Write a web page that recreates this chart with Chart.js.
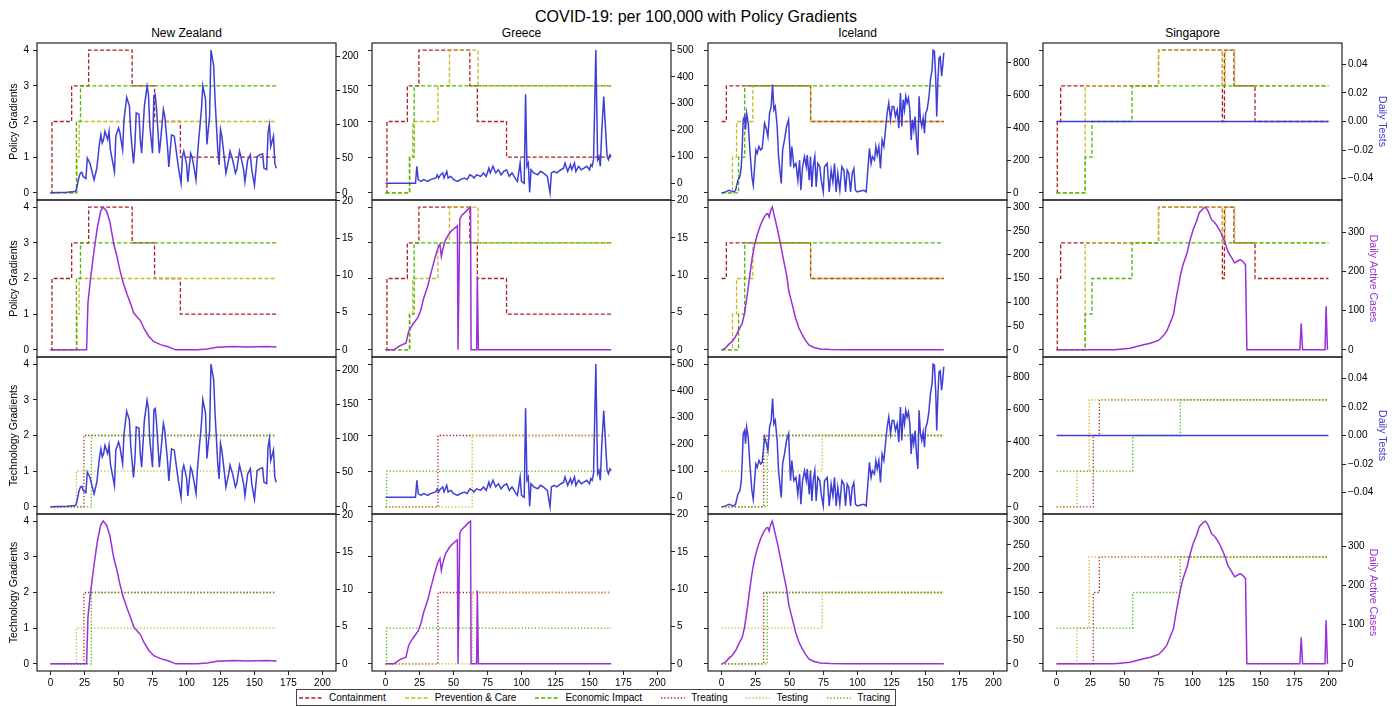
<!DOCTYPE html>
<html>
<head>
<meta charset="utf-8">
<title>COVID-19 policy gradients</title>
<script src="https://cdn.jsdelivr.net/npm/chart.js@4.4.1/dist/chart.umd.min.js"></script>
<style>
body{margin:0;background:#fff;font-family:"Liberation Sans",Arial,Helvetica,sans-serif;color:#000}
#fig{position:relative;width:1395px;height:707px;overflow:hidden}
#fig canvas{position:absolute}
#title{position:absolute;left:0;top:8px;width:1392px;text-align:center;font-size:16px}
.coltitle{position:absolute;top:26px;width:299px;text-align:center;font-size:12px}
#legend{position:absolute;left:296px;top:689px;width:600px;height:17px;border:1px solid #444;box-sizing:border-box;display:flex;align-items:center;font-size:10px;padding-left:2px;white-space:nowrap}
#legend .it{display:flex;align-items:center;margin-right:19px;flex-shrink:0}
#legend svg{margin-right:6px}
</style>
</head>
<body>
<div id="fig">
<div id="title">COVID-19: per 100,000 with Policy Gradients</div>
<div id="legend"></div>
</div>
<script>
// ---- labels ----
const countries=["New Zealand","Greece","Iceland","Singapore"];
const rowLabels=["Policy Gradients","Policy Gradients","Technology Gradients","Technology Gradients"];
const policyNames=["Containment","Prevention & Care","Economic Impact"];
const techNames=["Treating","Testing","Tracing"];
const xTicks=[0,25,50,75,100,125,150,175,200];
const gradTicks=[0,1,2,3,4];
const testTicks=[[0,50,100,150,200],[0,100,200,300,400,500],[0,200,400,600,800],[-0.04,-0.02,0,0.02,0.04]];
const caseTicks=[[0,5,10,15,20],[0,5,10,15,20],[0,50,100,150,200,250,300],[0,100,200,300]];

// ---- gradients: [day, level], level holds until next day ----
const nzContainment=[[0,0],[1,2],[15.5,3],[28,4],[60,3],[76.5,2],[95.5,1],[166,1]];
const nzPrevention=[[0,0],[19.5,1],[21,2],[166,2]];
const nzEconomic=[[0,0],[19,2],[22,3],[166,3]];
const nzTreating=[[0,0],[24.5,2],[166,2]];
const nzTesting=[[0,0],[19,1],[166,1]];
const nzTracing=[[0,0],[30,2],[166,2]];

const grContainment=[[0,0],[1,2],[16,3],[24.5,4],[62,3],[67.5,2],[89,1],[166,1]];
const grPrevention=[[0,0],[18,1],[20,2],[38.5,3],[47,4],[68,3],[166,3]];
const grEconomic=[[0,0],[17.5,1],[21,3],[166,3]];
const grTreating=[[0,0],[38.5,2],[166,2]];
const grTesting=[[0,0],[63.7,2],[166,2]];
const grTracing=[[0,0],[0.7,1],[166,1]];

const isContainment=[[0,2],[3.5,3],[65.5,2],[163.5,2]];
const isPrevention=[[0,0],[8,1],[11,2],[23,3],[65.5,2],[163.5,2]];
const isEconomic=[[0,0],[12.5,1],[17,3],[163,3]];
const isTreating=[[0,0],[31,2],[163.5,2]];
const isTesting=[[0,1],[74,2],[163.5,2]];
const isTracing=[[0,0],[33.5,2],[163.5,2]];

const sgContainment=[[0,0],[0.5,2],[3,3],[75,4],[122,2],[123.5,4],[130.5,3],[146,2],[200,2]];
const sgPrevention=[[0,0],[21,3],[75,4],[122,3],[124,4],[131,3],[200,3]];
const sgEconomic=[[0,0],[21,1],[26,2],[55.5,3],[200,3]];
const sgTreating=[[0,0],[27,2],[31.5,3],[200,3]];
const sgTesting=[[0,0],[15,1],[24,3],[200,3]];
const sgTracing=[[0,1],[56,2],[91,3],[200,3]];

// ---- daily tests per 100,000: [day, value] ----
const nzTests=[[0,0],[12,1],[18,2],[19,5],[21,24],[22,29],[23,30],[24,24],[26,21],[27,51],[29,43],[32,19],[34,36],[36,73],[37,85],[38,73],[39,78],[40,90],[42,78],[43,90],[44,63],[47,31],[48,83],[50,95],[51,88],[53,63],[54,107],[56,140],[58,127],[59,88],[61,43],[62,68],[63,117],[65,115],[66,78],[67,58],[69,127],[71,156],[72,144],[73,98],[75,58],[76,142],[77,144],[78,122],[80,58],[81,78],[83,122],[84,112],[86,68],[87,38],[89,85],[91,83],[92,68],[94,38],[96,14],[97,53],[98,61],[100,43],[101,16],[103,58],[104,53],[105,43],[107,19],[108,53],[109,78],[111,122],[112,157],[114,137],[115,71],[117,112],[118,209],[120,186],[121,137],[123,63],[124,41],[125,93],[126,83],[128,48],[129,29],[131,48],[132,61],[134,48],[136,29],[137,34],[139,61],[140,53],[142,34],[143,16],[145,48],[147,56],[148,34],[150,11],[152,53],[154,56],[156,57],[157,36],[159,34],[160,88],[161,100],[162,68],[164,83],[165,43],[166,36]];
const grTests=[[0,0],[22,0],[23,64],[24,14],[26,7],[28,14],[31,7],[33,14],[37,20],[38,32],[39,20],[40,29],[42,39],[43,20],[45,45],[46,20],[48,26],[50,14],[53,7],[55,14],[58,20],[60,14],[62,32],[64,26],[65,20],[67,32],[70,26],[72,39],[74,26],[76,57],[77,39],[79,64],[81,39],[83,51],[85,32],[87,45],[89,51],[91,26],[93,39],[96,14],[97,7],[99,76],[100,7],[102,0],[103,335],[104,64],[105,76],[106,-34],[107,51],[109,39],[112,32],[114,45],[116,39],[119,26],[121,-36],[122,39],[124,45],[126,39],[129,51],[131,57],[132,76],[134,45],[136,70],[137,51],[139,76],[140,45],[142,64],[144,51],[146,57],[148,64],[150,51],[151,70],[152,64],[153,89],[154.7,501],[156,89],[157,101],[158,64],[159,189],[160.5,326],[162,189],[163,101],[164,89],[165,107],[166,101]];
const isTests=[[0,0],[3,6],[5.4,16],[6.6,12],[9,6],[10.3,16],[12,78],[13.5,99],[14.5,161],[15.2,285],[15.9,450],[16.9,470],[17.6,388],[18.4,491],[19.6,429],[20.8,264],[22.3,99],[23.3,47],[24.3,161],[25.2,264],[26.2,243],[27.5,285],[28.7,264],[29.9,274],[31.6,429],[33.1,388],[34.1,346],[35.3,491],[36.5,532],[37.5,666],[38.5,511],[39.5,532],[40.9,408],[41.9,223],[42.9,140],[43.9,58],[44.9,264],[46.3,326],[47.8,408],[49.3,450],[50.7,161],[51.7,285],[53.2,161],[54.7,181],[56.1,78],[57.4,202],[58.3,16],[59.6,161],[61,223],[62.3,161],[63,233],[64.5,78],[65.4,223],[66.4,37],[67.4,161],[68.6,223],[69.6,37],[70.8,181],[72.3,161],[73.3,78],[74.8,6],[75.7,161],[77.7,181],[79.2,6],[80.6,140],[81.9,68],[83.1,181],[84.3,6],[85.5,120],[87,16],[88.5,161],[90,140],[91.2,6],[92.4,140],[93.6,120],[94.9,6],[96.1,120],[97.3,150],[98.5,16],[99.8,6],[102.2,12],[104.7,16],[106.4,6],[107.6,140],[108.8,274],[110,181],[111,223],[112.5,202],[113.5,285],[114.5,233],[115.7,285],[116.9,150],[118.1,326],[119.4,285],[120.6,388],[121.8,491],[123,553],[124.3,450],[125.5,532],[126.7,532],[127.9,470],[129.2,511],[130.4,398],[131.6,614],[132.6,408],[133.6,573],[134.6,511],[135.5,594],[136.5,553],[137.5,584],[138.5,511],[139.5,326],[140.4,450],[141.4,388],[142.4,470],[143.4,326],[144.4,233],[145.3,594],[146.3,450],[147.3,408],[148.3,460],[149.3,367],[150.2,491],[151.2,511],[152.5,584],[153.7,697],[154.9,759],[155.6,878],[156.6,872],[157.6,697],[158.3,470],[159.1,676],[160,831],[160.9,837],[161.9,718],[162.7,779],[163.5,862]];
const sgTests=[[0,0],[200,0]];

// ---- daily active cases per 100,000: [day, value] ----
const nzCases=[[0,0],[26.5,0],[27.5,6.3],[29.4,9.6],[31.9,13.2],[34.3,16.3],[36.8,18.6],[38.7,19.15],[41.2,18.6],[43.6,17.2],[46.6,14.1],[48.5,12.8],[51,10.7],[53.4,9],[56.4,7.4],[59.3,6],[61.3,4.9],[64.2,4.3],[66.2,3.9],[68.6,2.9],[72.3,1.8],[76,1.1],[80.9,0.7],[85.8,0.45],[89.5,0.2],[91.9,0],[107.8,0],[115.2,0.13],[122.5,0.36],[134.8,0.45],[144.6,0.4],[159.3,0.45],[166.2,0.4]];
const grCases=[[0,0],[6,0],[9,0.36],[11,0.6],[15,0.9],[17,2.5],[20,3.4],[24,4.4],[26,5.4],[28,6.9],[31,8.5],[33,10],[35,11.4],[37,12.7],[38.5,13.6],[40,14.1],[41,12.5],[42,13.4],[44,14.7],[47,15.6],[49,16],[51.5,16.4],[52.8,16.6],[53.3,0],[54,0],[54.6,17.5],[56,18],[59,18.5],[61,18.9],[62.5,19.1],[62.9,0],[67,0],[67.5,9.8],[68.3,0],[166,0]];
const isCases=[[0,0],[2.9,3.5],[5.4,12],[7.8,17.6],[10.3,28],[12.7,42],[15.2,56],[16.9,77],[18.9,116],[20.8,158],[22.5,193],[24.3,221],[26.2,242],[28.7,263],[31.1,278],[33.1,286],[34.1,286],[35,279],[36,292],[37.3,300],[38.5,285],[40.9,256],[43.4,221],[45.8,186],[47.8,158],[49.5,123],[52,95],[54.4,67],[56.9,46],[59.3,32],[61.8,20],[64.2,10.5],[67.9,5],[72.8,2],[80.1,0.7],[92.4,0],[163.5,0]];
const sgCases=[[0,0],[42,0],[47,1.7],[54,4],[59,8.5],[64,13],[69,17],[75,24],[78,34],[81,47],[83,64],[86,90],[88,132],[91,188],[93,217],[96,247],[98,277],[100.5,307],[103,328],[105,350],[108,361],[109.6,364],[111.5,354],[114,332],[116.5,324],[119,311],[121,298],[124,273],[126,251],[129,234],[131,222],[133,226],[135,230],[137,226],[139,217],[140,0],[179,0],[180,68],[181,0],[197.5,0],[198.3,111],[199.3,0]];

const policy=[[nzContainment,nzPrevention,nzEconomic],[grContainment,grPrevention,grEconomic],[isContainment,isPrevention,isEconomic],[sgContainment,sgPrevention,sgEconomic]];
const tech=[[nzTreating,nzTesting,nzTracing],[grTreating,grTesting,grTracing],[isTreating,isTesting,isTracing],[sgTreating,sgTesting,sgTracing]];
const tests=[nzTests,grTests,isTests,sgTests];
const cases=[nzCases,grCases,isCases,sgCases];

// ---- styling ----
const gradColors=["#b02020","#c8b824","#4cb800"];
const testColor="#3f3fd6";
const caseColor="#9a30d8";
const DASH=[4,2.2];
const DOT=[1.3,2];

Chart.defaults.font.family='"Liberation Sans", Arial, sans-serif';
Chart.defaults.color='#000';

const COL_L=[37,372,708,1043];
const ROW_T=[43,200,357,514];
const BW=299, BH=157, PT=8;

const fig=document.getElementById('fig');

countries.forEach((name,c)=>{
  const d=document.createElement('div');
  d.className='coltitle';
  d.style.left=COL_L[c]+'px';
  d.textContent=name;
  fig.appendChild(d);
});

const frame={id:'frame',afterDatasetsDraw(ch){
  const a=ch.chartArea,g=ch.ctx;
  g.save();g.strokeStyle='#222';g.lineWidth=1.2;
  g.strokeRect(a.left,a.top,a.right-a.left,a.bottom-a.top);
  g.restore();
}};

function range(pairs){
  const v=pairs.map(p=>p[1]);
  let lo=Math.min(...v),hi=Math.max(...v);
  if(lo===hi){lo-=0.05;hi+=0.05;}
  const m=(hi-lo)*0.05;
  return [lo-m,hi+m];
}
function fixW(w){return s=>{s.width=w;s.paddingTop=0;s.paddingBottom=0;s.paddingLeft=0;s.paddingRight=0;};}
function fixH(h){return s=>{s.height=h;s.paddingTop=0;s.paddingBottom=0;s.paddingLeft=0;s.paddingRight=0;};}
function setTicks(vals){return s=>{s.ticks=vals.map(v=>({value:v}));};}
function fmt(vals){
  const dec=vals.some(t=>!Number.isInteger(t))?2:0;
  return v=>Number(v).toFixed(dec).replace('-','\u2212');
}
const xy=pairs=>pairs.map(p=>({x:p[0],y:p[1]}));

function panel(r,c){
  const isTest=r%2===0;
  const grads=r<2?policy[c]:tech[c];
  const names=r<2?policyNames:techNames;
  const right=isTest?tests[c]:cases[c];
  const rTicks=isTest?testTicks[c]:caseTicks[c];
  const lw=c===0?COL_L[0]:12;
  const rw=c===3?(isTest?50:41):36;
  const bottomAxis=r===3;
  const pb=bottomAxis?26:4;
  const w=lw+BW+rw, h=PT+BH+pb;
  const cv=document.createElement('canvas');
  cv.width=w;cv.height=h;
  cv.style.width=w+'px';cv.style.height=h+'px';
  cv.style.left=(COL_L[c]-lw)+'px';
  cv.style.top=(ROW_T[r]-PT)+'px';
  fig.appendChild(cv);

  const rr=range(right);
  const datasets=[{
    label:isTest?'Daily Tests':'Daily Active Cases',
    data:xy(right),yAxisID:'y1',borderColor:isTest?testColor:caseColor,
    borderWidth:1.5,pointRadius:0,tension:0,order:0
  }];
  grads.forEach((g,i)=>datasets.push({
    label:names[i],data:xy(g),yAxisID:'y',borderColor:gradColors[i],
    borderWidth:1.3,borderDash:r<2?DASH:DOT,stepped:true,pointRadius:0,order:3-i
  }));

  new Chart(cv,{
    type:'line',
    data:{datasets},
    options:{
      responsive:false,animation:false,events:[],
      layout:{padding:{top:PT,bottom:bottomAxis?0:pb,left:0,right:0}},
      plugins:{legend:{display:false},tooltip:{enabled:false}},
      scales:{
        x:{type:'linear',min:-10,max:210,display:bottomAxis,
          afterBuildTicks:setTicks(xTicks),afterFit:fixH(bottomAxis?26:0),
          ticks:{font:{size:10},color:'#000',padding:2,autoSkip:false,maxRotation:0},
          grid:{drawOnChartArea:false,tickLength:4,color:'#222'},border:{display:false}},
        y:{type:'linear',position:'left',min:-0.2,max:4.2,
          afterBuildTicks:setTicks(gradTicks),afterFit:fixW(lw),
          ticks:{display:c===0,font:{size:10},color:'#000',padding:4,autoSkip:false},
          grid:{drawOnChartArea:false,tickLength:4,color:'#222'},border:{display:false},
          title:{display:c===0,text:rowLabels[r],font:{size:10.5},color:'#000',padding:{top:8,bottom:0}}},
        y1:{type:'linear',position:'right',min:rr[0],max:rr[1],
          afterBuildTicks:setTicks(rTicks),afterFit:fixW(rw),
          ticks:{font:{size:10},color:'#000',padding:2,autoSkip:false,callback:fmt(rTicks)},
          grid:{drawOnChartArea:false,tickLength:4,color:'#222'},border:{display:false},
          title:{display:c===3,text:isTest?'Daily Tests':'Daily Active Cases',
            font:{size:10.5},color:isTest?testColor:caseColor,padding:{top:4,bottom:0}}}
      }
    },
    plugins:[frame]
  });
}

for(let r=0;r<4;r++)for(let c=0;c<4;c++)panel(r,c);

// ---- legend ----
const legend=document.getElementById('legend');
policyNames.concat(techNames).forEach((n,i)=>{
  const it=document.createElement('div');it.className='it';
  const dash=i<3?'4 2.2':'1.3 2';
  it.innerHTML='<svg width="24" height="6"><line x1="0" y1="3" x2="24" y2="3" stroke="'+gradColors[i%3]+
    '" stroke-width="1.4" stroke-dasharray="'+dash+'"/></svg><span></span>';
  it.querySelector('span').textContent=n;
  legend.appendChild(it);
});
</script>
</body>
</html>
